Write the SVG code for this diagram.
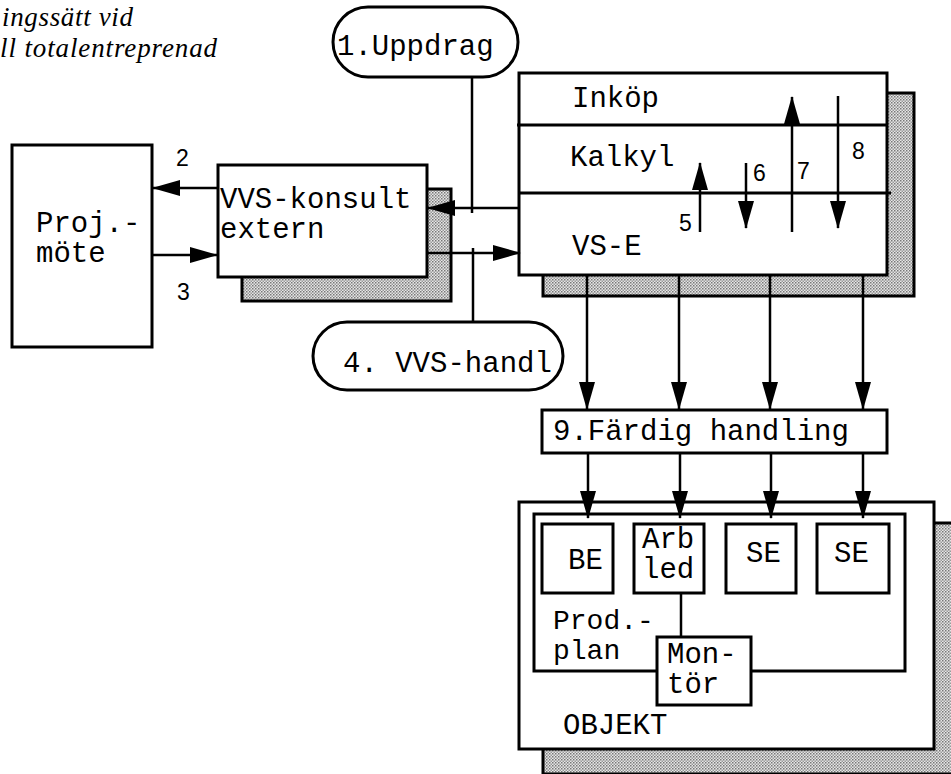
<svg xmlns="http://www.w3.org/2000/svg" width="951" height="774" viewBox="0 0 951 774">
<style>
.box{fill:#fff;stroke:#000;stroke-width:3}
.shadow{fill:url(#dots);stroke:#000;stroke-width:3}
.mono{font-family:"Liberation Mono","Courier New",monospace;font-size:29px;fill:#000}
.num{font-family:"Liberation Sans",Arial,sans-serif;font-size:23px;fill:#000}
.title{font-family:"Liberation Serif","Times New Roman",serif;font-style:italic;font-size:27px;fill:#000}
.ln{stroke:#000;stroke-width:2.5;fill:none}
.arr{stroke:#000;stroke-width:2.5;fill:none;marker-end:url(#ah)}
</style>
<defs>
<pattern id="dots" width="3" height="3" patternUnits="userSpaceOnUse">
<rect width="3" height="3" fill="#e6e6e6"/>
<rect width="1.5" height="1.5" fill="#777"/>
<rect x="1.5" y="1.5" width="1.5" height="1.5" fill="#999"/>
</pattern>
<marker id="ah" viewBox="0 0 28 16" markerWidth="28" markerHeight="16" refX="27" refY="8" orient="auto" markerUnits="userSpaceOnUse">
<path d="M0,0 L28,8 L0,16 z" fill="#000"/>
</marker>
</defs>

<g id="title">
<text class="title" x="2" y="26" textLength="131" lengthAdjust="spacing">ingssätt vid</text>
<text class="title" x="0" y="57" textLength="217" lengthAdjust="spacing">ll totalentreprenad</text>
</g>

<g id="proj-mote">
<rect class="box" x="12" y="145" width="140" height="202"/>
<text class="mono" x="36" y="232">Proj.-</text>
<text class="mono" x="36" y="262">möte</text>
</g>

<g id="vvs-konsult">
<rect class="shadow" x="242" y="189" width="209" height="112"/>
<rect class="box" x="218" y="165" width="209" height="112"/>
<text class="mono" x="220" y="208">VVS-konsult</text>
<text class="mono" x="220" y="238">extern</text>
</g>

<g id="uppdrag">
<rect class="box" x="333" y="7" width="185" height="70" rx="35" ry="35"/>
<text class="mono" x="337" y="55">1.Uppdrag</text>
</g>

<g id="vvs-handl">
<rect class="box" x="313" y="322" width="250" height="68" rx="34" ry="34"/>
<text class="mono" x="343" y="372">4. VVS-handl</text>
</g>

<g id="main">
<rect class="shadow" x="543" y="93" width="371" height="203"/>
<rect class="box" x="519" y="73" width="368" height="202"/>
<line class="ln" x1="517" y1="125" x2="887" y2="125" style="stroke-width:3"/>
<line class="ln" x1="519" y1="193" x2="891" y2="193" style="stroke-width:3"/>
<text class="mono" x="572" y="107">Inköp</text>
<text class="mono" x="570" y="166">Kalkyl</text>
<text class="mono" x="572" y="255">VS-E</text>
</g>

<g id="fardig-handling">
<rect class="box" x="542" y="410" width="345" height="43"/>
<text class="mono" x="553" y="440">9.Färdig handling</text>
</g>

<g id="objekt">
<rect class="shadow" x="543" y="523" width="420" height="251"/>
<rect class="box" x="519" y="502" width="415" height="247"/>
<text class="mono" x="563" y="734">OBJEKT</text>
</g>

<g id="prod-plan">
<rect class="box" x="534" y="514" width="371" height="157"/>
<text class="mono" x="553" y="629" style="font-size:28px">Prod.-</text>
<text class="mono" x="553" y="659" style="font-size:28px">plan</text>
</g>

<g id="be">
<rect class="box" x="542" y="524" width="71" height="69"/>
<text class="mono" x="568" y="569">BE</text>
</g>

<g id="arb-led">
<rect class="box" x="634" y="524" width="70" height="69"/>
<text class="mono" x="642" y="548">Arb</text>
<text class="mono" x="642" y="578">led</text>
</g>

<g id="se1">
<rect class="box" x="726" y="524" width="70" height="69"/>
<text class="mono" x="746" y="562">SE</text>
</g>

<g id="se2">
<rect class="box" x="817" y="524" width="72" height="69"/>
<text class="mono" x="834" y="562">SE</text>
</g>

<g id="connectors">
<line class="arr" x1="218" y1="188" x2="153" y2="188"/>
<text class="num" x="176" y="166">2</text>
<line class="arr" x1="152" y1="255" x2="217" y2="255"/>
<text class="num" x="177" y="300">3</text>
<line class="arr" x1="520" y1="208" x2="428" y2="208"/>
<line class="arr" x1="451" y1="253" x2="520" y2="253"/>
<line class="ln" x1="427" y1="253" x2="451" y2="253"/>
<line class="ln" x1="472" y1="77" x2="472" y2="213"/>
<line class="ln" x1="473" y1="248" x2="473" y2="322"/>
<line class="arr" x1="700" y1="232" x2="700" y2="163"/>
<text class="num" x="679" y="231">5</text>
<line class="arr" x1="746" y1="163" x2="746" y2="228"/>
<text class="num" x="753" y="181">6</text>
<line class="arr" x1="792" y1="232" x2="792" y2="97"/>
<text class="num" x="797" y="179">7</text>
<line class="arr" x1="838" y1="96" x2="838" y2="228"/>
<text class="num" x="852" y="159">8</text>
<line class="arr" x1="587" y1="275" x2="587" y2="409"/>
<line class="arr" x1="679" y1="275" x2="679" y2="409"/>
<line class="arr" x1="770" y1="275" x2="770" y2="409"/>
<line class="arr" x1="863" y1="275" x2="863" y2="409"/>
<line class="arr" x1="588" y1="453" x2="588" y2="518"/>
<line class="arr" x1="680" y1="453" x2="680" y2="518"/>
<line class="arr" x1="771" y1="453" x2="771" y2="518"/>
<line class="arr" x1="863" y1="453" x2="863" y2="518"/>
<line class="ln" x1="681" y1="593" x2="681" y2="637"/>
</g>

<g id="montor">
<rect class="box" x="657" y="637" width="94" height="68"/>
<text class="mono" x="667" y="663">Mon-</text>
<text class="mono" x="667" y="693">tör</text>
</g>
</svg>
